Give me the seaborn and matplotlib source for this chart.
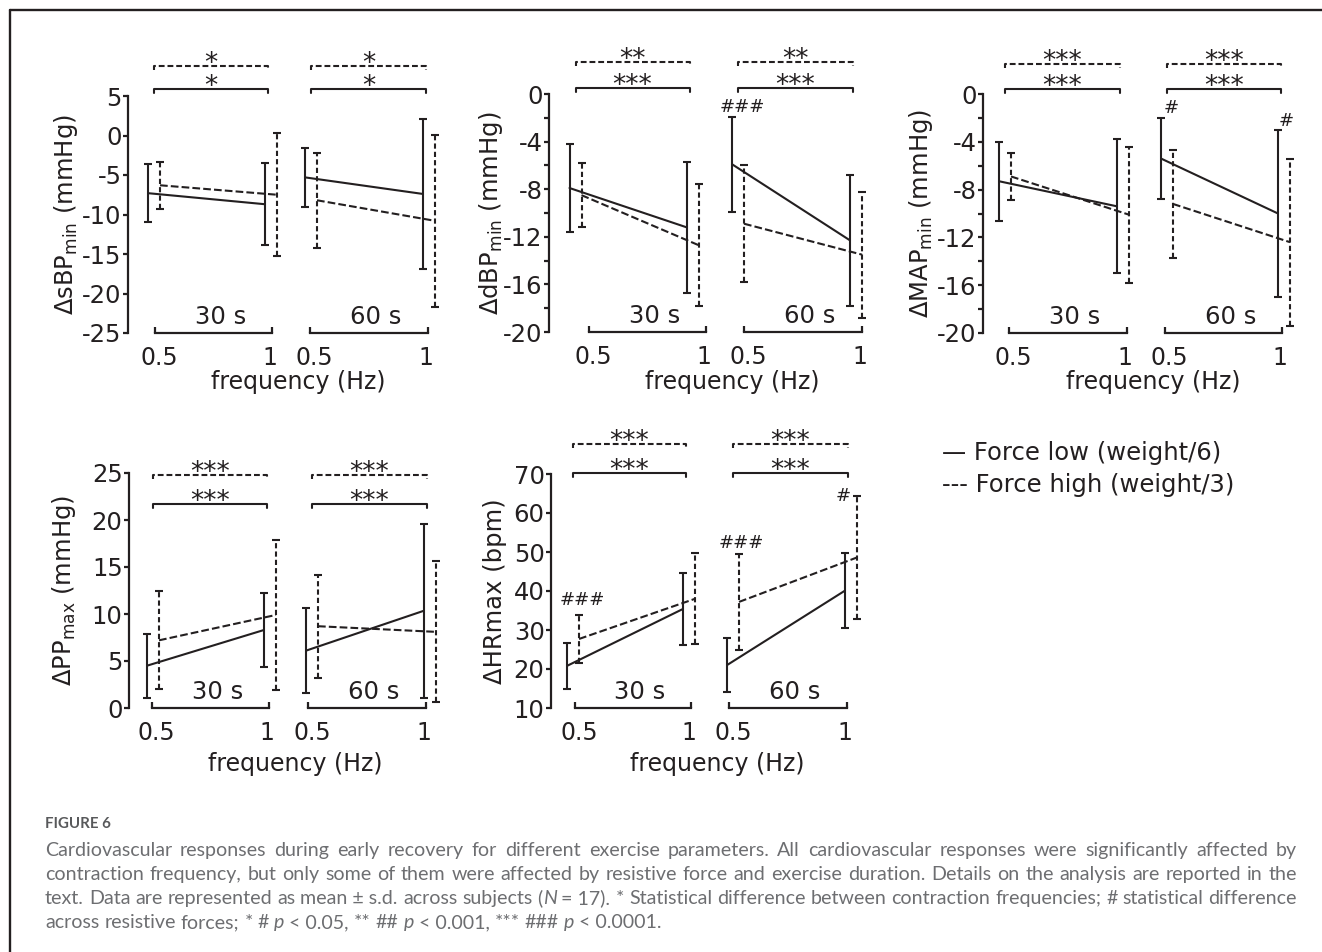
import re
import numpy as np
import pandas as pd
import matplotlib
matplotlib.use('Agg')
import matplotlib.pyplot as plt
import matplotlib.transforms as mtransforms
import seaborn as sns
from matplotlib import font_manager as fm
from matplotlib.lines import Line2D

# ---------------- data ----------------
frequencies = [0.5, 1.0]
durations = ['30 s', '60 s']
forces = ['low', 'high']
legend_labels = ['Force low (weight/6)', 'Force high (weight/3)']

# every list: [30 s, 60 s] x [0.5 Hz, 1 Hz]
sbp_mean_low = [[-7.3, -8.7], [-5.3, -7.4]]
sbp_sd_low = [[3.7, 5.2], [3.7, 9.5]]
sbp_mean_high = [[-6.3, -7.5], [-8.2, -10.8]]
sbp_sd_high = [[3.0, 7.8], [6.0, 10.9]]

dbp_mean_low = [[-7.9, -11.2], [-5.9, -12.3]]
dbp_sd_low = [[3.7, 5.5], [4.0, 5.5]]
dbp_mean_high = [[-8.5, -12.7], [-10.9, -13.5]]
dbp_sd_high = [[2.7, 5.1], [4.9, 5.3]]

map_mean_low = [[-7.3, -9.4], [-5.4, -10.0]]
map_sd_low = [[3.3, 5.6], [3.4, 7.0]]
map_mean_high = [[-6.9, -10.1], [-9.2, -12.4]]
map_sd_high = [[2.0, 5.7], [4.5, 7.0]]

pp_mean_low = [[4.5, 8.3], [6.1, 10.35]]
pp_sd_low = [[3.4, 3.9], [4.5, 9.25]]
pp_mean_high = [[7.2, 9.9], [8.7, 8.1]]
pp_sd_high = [[5.2, 8.0], [5.5, 7.5]]

hr_mean_low = [[20.8, 35.4], [21.0, 40.1]]
hr_sd_low = [[5.9, 9.2], [6.9, 9.6]]
hr_mean_high = [[27.7, 38.0], [37.2, 48.6]]
hr_sd_high = [[6.1, 11.7], [12.3, 15.8]]

# frequency significance per duration [30 s, 60 s]
sbp_sig = {'low': ['*', '*'], 'high': ['*', '*']}
dbp_sig = {'low': ['***', '***'], 'high': ['**', '**']}
map_sig = {'low': ['***', '***'], 'high': ['***', '***']}
pp_sig = {'low': ['***', '***'], 'high': ['***', '***']}
hr_sig = {'low': ['***', '***'], 'high': ['***', '***']}

# force significance: (duration, frequency, force whose bar it tops, label)
dbp_force_marks = [('60 s', 0.5, 'low', '###')]
map_force_marks = [('60 s', 0.5, 'low', '#'), ('60 s', 1.0, 'low', '#')]
hr_force_marks = [('30 s', 0.5, 'high', '###'), ('60 s', 0.5, 'high', '###'),
                  ('60 s', 1.0, 'high', '#')]

caption_title = 'FIGURE 6'
caption_lines = [
    "Cardiovascular responses during early recovery for different exercise parameters. All cardiovascular responses were significantly affected by",
    "contraction frequency, but only some of them were affected by resistive force and exercise duration. Details on the analysis are reported in the",
    "text. Data are represented as mean\u00a0\u00b1\u00a0s.d. across subjects ({N}\u00a0=\u00a017). * Statistical difference between contraction frequencies; # statistical difference",
    "across resistive forces; * # {p}\u00a0<\u00a00.05, ** ## {p}\u00a0<\u00a00.001, *** ### {p}\u00a0<\u00a00.0001.",
]

measures = {
    'sbp': (sbp_mean_low, sbp_sd_low, sbp_mean_high, sbp_sd_high, sbp_sig, []),
    'dbp': (dbp_mean_low, dbp_sd_low, dbp_mean_high, dbp_sd_high, dbp_sig, dbp_force_marks),
    'map': (map_mean_low, map_sd_low, map_mean_high, map_sd_high, map_sig, map_force_marks),
    'pp': (pp_mean_low, pp_sd_low, pp_mean_high, pp_sd_high, pp_sig, []),
    'hr': (hr_mean_low, hr_sd_low, hr_mean_high, hr_sd_high, hr_sig, hr_force_marks),
}

# ---------------- layout (pixels) ----------------
W, H = 1322, 952
INK = '#231f20'
panels = [
    dict(key='sbp', ylabel='\u0394sBP$_\\mathregular{min}$ (mmHg)', ylim=(-25, 5), major=5, minor=None,
         top=96, bot=333, yspine=128, x30=(155, 272), x60=(310, 428), shift=(-1, 1),
         ylab_x=66, sig_px=(7, 30), flab_y=382),
    dict(key='dbp', ylabel='\u0394dBP$_\\mathregular{min}$ (mmHg)', ylim=(-20, 0), major=4, minor=2,
         top=94, bot=332, yspine=549, x30=(589, 706), x60=(744, 862), shift=(-13.5, -6),
         ylab_x=491, sig_px=(6, 32), flab_y=382),
    dict(key='map', ylabel='\u0394MAP$_\\mathregular{min}$ (mmHg)', ylim=(-20, 0), major=4, minor=2,
         top=94, bot=333, yspine=983, x30=(1009, 1127), x60=(1165, 1282), shift=(-4, 2),
         ylab_x=921, sig_px=(5, 30), flab_y=382),
    dict(key='pp', ylabel='\u0394PP$_\\mathregular{max}$ (mmHg)', ylim=(0, 25), major=5, minor=None,
         top=473, bot=708, yspine=129, x30=(152, 269), x60=(308, 426), shift=(1, 4),
         ylab_x=64, sig_px=(-31, -2), flab_y=764),
    dict(key='hr', ylabel='\u0394HRmax (bpm)', ylim=(10, 70), major=10, minor=None,
         top=474, bot=708, yspine=551, x30=(575, 691), x60=(729, 847), shift=(-2, 4),
         ylab_x=495, sig_px=(1, 30), flab_y=764),
]
# force-mark text offsets (px) relative to the top of the bar they mark
mark_offsets = {
    'dbp': [(10, 10)],
    'map': [(10, 10), (8, 9)],
    'hr': [(3, 15), (2, 11), (-14, 0)],
}
DODGE = 6  # px
PT = 0.72  # points per pixel at 100 dpi
tick_nudge_px = [4, -2]  # horizontal nudge of the '0.5' and '1' tick labels

sns.set_style('ticks')
plt.rcParams['font.family'] = ['DejaVu Sans']
plt.rcParams['axes.unicode_minus'] = False
plt.rcParams['text.color'] = INK
plt.rcParams['axes.labelcolor'] = INK

fig = plt.figure(figsize=(W / 100, H / 100), dpi=100)


def px_axes(left, right, top, bottom):
    ax = fig.add_axes([left / W, 1 - bottom / H, (right - left) / W, (bottom - top) / H])
    ax.patch.set_visible(False)
    return ax


FS = 17.5
XFS = 17
for P in panels:
    mlow, slow, mhigh, shigh, sig, marks = measures[P['key']]
    rows = []
    for di, dur in enumerate(durations):
        for fi, fr in enumerate(frequencies):
            rows.append(dict(duration=dur, force='low', freq=fr, mean=mlow[di][fi], sd=slow[di][fi]))
            rows.append(dict(duration=dur, force='high', freq=fr, mean=mhigh[di][fi], sd=shigh[di][fi]))
    df = pd.DataFrame(rows)

    axes = []
    for di, dur in enumerate(durations):
        xr = P['x30'] if di == 0 else P['x60']
        s = (xr[1] - xr[0]) / 0.5
        left = P['yspine'] if di == 0 else xr[0] - 28
        right = xr[1] + 28
        ax = px_axes(left, right, P['top'], P['bot'])
        ax.set_xlim(0.5 - (xr[0] - left) / s, 1 + 28 / s)
        ax.set_ylim(*P['ylim'])
        axes.append(ax)

        sub = df[df['duration'] == dur].copy()
        sh = P['shift'][di]
        sub['xpos'] = sub['freq'] + (sh + np.where(sub['force'] == 'low', -DODGE, DODGE)) / s

        sns.lineplot(data=sub, x='xpos', y='mean', style='force', style_order=forces,
                     dashes={'low': '', 'high': (3.7, 1.5)}, color=INK, linewidth=1.5,
                     estimator=None, errorbar=None, legend=False, ax=ax)
        for f in forces:
            d = sub[sub['force'] == f]
            eb = ax.errorbar(d['xpos'], d['mean'], yerr=d['sd'], fmt='none', ecolor=INK,
                             elinewidth=1.5, capsize=3 if f == 'low' else 2.6, capthick=1.5)
            for c in eb.lines[1]:
                c.set_clip_on(False)
            for c in eb.lines[2]:
                c.set_clip_on(False)
                if f == 'high':
                    c.set_linestyle((0, (2.5, 1.5)))
        for ln in ax.lines:
            ln.set_clip_on(False)

        # x "bracket" axis
        ax.spines['top'].set_visible(False)
        ax.spines['right'].set_visible(False)
        ax.spines['bottom'].set_bounds(0.5, 1.0)
        ax.spines['bottom'].set_linewidth(1.6)
        ax.spines['bottom'].set_color(INK)
        ax.set_xticks(frequencies)
        ax.set_xticklabels(['0.5', '1'])
        ax.tick_params(axis='x', direction='in', length=4.3, width=1.6, pad=9.5,
                       labelsize=XFS, colors=INK)
        for lab, nd in zip(ax.get_xticklabels(), tick_nudge_px):
            lab.set_transform(lab.get_transform() +
                              mtransforms.ScaledTranslation(nd / 100, 0, fig.dpi_scale_trans))
        ax.set_xlabel('')
        ax.set_ylabel('')

        # duration label
        ax.annotate(dur, xy=(0.75 + 7 / s, 0), xycoords=('data', 'axes fraction'),
                    xytext=(0, 16 * PT), textcoords='offset points',
                    ha='center', va='center', fontsize=FS, color=INK)

        # frequency significance brackets
        hpx = P['bot'] - P['top']
        x0 = 0.5 + sh / s
        x1 = 1.0 + (sh - 3) / s
        for f, off in zip(['low', 'high'], P['sig_px']):
            yf = 1 + off / hpx
            tk = 4 / hpx
            ax.plot([x0, x0, x1, x1], [yf - tk, yf, yf, yf - tk],
                    transform=ax.get_xaxis_transform(), clip_on=False, color=INK,
                    lw=1.5, ls='-' if f == 'low' else (0, (2.8, 1.4)))
            ax.annotate(sig[f][di], xy=((x0 + x1) / 2, yf), xycoords=ax.get_xaxis_transform(),
                        xytext=(0, -3.6), textcoords='offset points', ha='center',
                        va='baseline', fontsize=19, color=INK, annotation_clip=False)

        # force significance marks
        for mi, (mdur, mfr, mforce, mlab) in enumerate(marks):
            if mdur != dur:
                continue
            r = sub[(sub['force'] == mforce) & (sub['freq'] == mfr)].iloc[0]
            dx, dy = mark_offsets[P['key']][mi]
            ax.annotate(mlab, xy=(r['xpos'], r['mean'] + r['sd']), xycoords='data',
                        xytext=(dx * PT, dy * PT), textcoords='offset points',
                        ha='center', va='center', fontsize=13, color=INK,
                        annotation_clip=False)

    axL, axR = axes
    # y axis only on the left sub-axes
    axL.spines['left'].set_linewidth(1.6)
    axL.spines['left'].set_color(INK)
    yt = np.arange(P['ylim'][0], P['ylim'][1] + 0.01, P['major'])
    axL.set_yticks(yt)
    axL.set_yticklabels([f'{v:g}' for v in yt])
    if P['minor']:
        axL.set_yticks(np.arange(P['ylim'][0], P['ylim'][1] + 0.01, P['minor']), minor=True)
        axL.tick_params(axis='y', which='minor', direction='out', length=3.6, width=1.6, colors=INK)
    axL.tick_params(axis='y', which='major', direction='out', length=3.6, width=1.6, pad=1,
                    labelsize=FS, colors=INK)
    axL.set_ylabel(P['ylabel'], fontsize=FS, color=INK)
    axL.yaxis.label.set_va('center')
    axL.yaxis.set_label_coords((P['ylab_x'] - P['yspine']) /
                               (P['x30'][1] + 28 - P['yspine']), 0.5)
    axR.spines['left'].set_visible(False)
    axR.tick_params(axis='y', which='both', left=False, labelleft=False)

    # shared x label
    cx = (P['x30'][1] + P['x60'][0]) / 2 + 7
    fig.text(cx / W, 1 - P['flab_y'] / H, 'frequency (Hz)', ha='center', va='center',
             fontsize=XFS, color=INK)

# legend written as text
fig.text(942 / W, 1 - 453 / H, '\u2014 ' + legend_labels[0], ha='left', va='center',
         fontsize=FS, color=INK)
fig.text(942 / W, 1 - 485 / H, '--- ' + legend_labels[1], ha='left', va='center',
         fontsize=FS, color=INK)

# frame
fig.add_artist(Line2D([10 / W, 1.0], [1 - 10 / H, 1 - 10 / H], transform=fig.transFigure,
                      color=INK, lw=1.7))
fig.add_artist(Line2D([10 / W, 10 / W], [1 - 10 / H, 0.0], transform=fig.transFigure,
                      color=INK, lw=1.7))

# ---------------- caption ----------------
avail = {f.name for f in fm.fontManager.ttflist}
cap_family = next((f for f in ['Lato', 'Open Sans', 'Noto Sans', 'DejaVu Sans'] if f in avail),
                  'DejaVu Sans')
CAP_COL = '#6d6e71'
renderer = fig.canvas.get_renderer()
cap_x0, cap_x1 = 45, 1297
cap_base = [856, 880, 904, 928]

fig.text(cap_x0 / W, 1 - 828 / H, caption_title, ha='left', va='baseline', fontsize=10.8,
         fontweight='bold', family=cap_family, color='#58595b')


def build_caption(fs):
    created = []
    fits = True
    for li, line in enumerate(caption_lines):
        y = 1 - cap_base[li] / H
        items = []
        for w in line.split(' '):
            arts = []
            for pc in re.split(r'(\{[^}]*\})', w):
                if not pc:
                    continue
                it = pc.startswith('{')
                txt = pc[1:-1] if it else pc
                t = fig.text(0, y, txt, ha='left', va='baseline', fontsize=fs,
                             family=cap_family, style='italic' if it else 'normal',
                             color=CAP_COL)
                arts.append(t)
                created.append(t)
            items.append([(a, a.get_window_extent(renderer=renderer).width) for a in arts])
        probe = fig.text(0, 0, 'a a', fontsize=fs, family=cap_family)
        probe2 = fig.text(0, 0, 'aa', fontsize=fs, family=cap_family)
        space = (probe.get_window_extent(renderer=renderer).width -
                 probe2.get_window_extent(renderer=renderer).width)
        probe.remove()
        probe2.remove()
        total = sum(wd for it in items for _, wd in it)
        n = len(items)
        if li < len(caption_lines) - 1:
            gap = (cap_x1 - cap_x0 - total) / (n - 1)
            if gap < 0.8 * space:
                fits = False
        else:
            gap = space
        x = cap_x0
        for it in items:
            for a, wd in it:
                a.set_x(x / W)
                x += wd
            x += gap
    return created, fits


fs = 14.1
while True:
    made, ok = build_caption(fs)
    if ok or fs < 8:
        break
    for t in made:
        t.remove()
    fs -= 0.2

fig.savefig('out.png', dpi=100)
